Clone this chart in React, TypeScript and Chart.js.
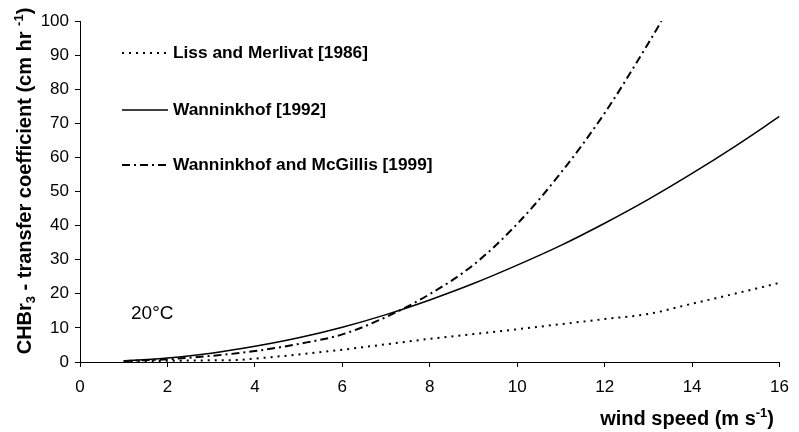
import { useEffect, useRef } from "react";
import { Chart, registerables } from "chart.js";

Chart.register(...registerables);

const lmSpeed = [1, 2, 3, 3.6, 4, 5, 6, 7, 8, 9, 10, 11, 12, 13, 14, 15, 16];
const lmValues = [0.2, 0.35, 0.5, 0.6, 1.0, 2.2, 3.6, 5.2, 6.8, 8.2, 9.6, 11.1, 12.6, 14.1, 17.1, 20.1, 23.2];

const w92Speed = [1, 2, 3, 4, 5, 6, 7, 8, 9, 10, 11, 12, 13, 14, 15, 16];
const w92Values = [0.3, 1.2, 2.6, 4.6, 7.1, 10.2, 13.9, 18.2, 23.0, 28.4, 34.2, 40.7, 47.7, 55.3, 63.4, 72.0];

const wmSpeed = [1, 2, 3, 4, 5, 6, 7, 8, 9, 10, 11, 12, 13, 13.3];
const wmValues = [0.3, 0.8, 1.8, 3.2, 5.3, 8.1, 13.2, 19.9, 28.5, 40.5, 55.5, 73.0, 93.5, 100.0];

const seriesNames = ["Liss and Merlivat [1986]", "Wanninkhof [1992]", "Wanninkhof and McGillis [1999]"];
const tempLabel = "20°C";

const FONT = "'Liberation Sans', Arial, Helvetica, sans-serif";

const dashDotted = [2, 5];
const dashSolid: number[] = [];
const dashDashDot = [8, 4, 2, 4];

type Piece = { t: string; size: number; dy: number };

function drawPieces(ctx: CanvasRenderingContext2D, pieces: Piece[], x: number, y: number, align: "left" | "center" | "right") {
  let total = 0;
  for (const p of pieces) {
    ctx.font = `bold ${p.size}px ${FONT}`;
    total += ctx.measureText(p.t).width;
  }
  let cx = align === "left" ? x : align === "center" ? x - total / 2 : x - total;
  ctx.textAlign = "left";
  ctx.textBaseline = "alphabetic";
  for (const p of pieces) {
    ctx.font = `bold ${p.size}px ${FONT}`;
    ctx.fillText(p.t, cx, y + p.dy);
    cx += ctx.measureText(p.t).width;
  }
}

const annotations = {
  id: "annotations",
  afterDraw(chart: Chart) {
    const ctx = chart.ctx;
    ctx.save();
    ctx.fillStyle = "#000";
    ctx.strokeStyle = "#000";

    // Y axis title (rotated)
    ctx.save();
    ctx.translate(31, 181);
    ctx.rotate(-Math.PI / 2);
    drawPieces(
      ctx,
      [
        { t: "CHBr", size: 20, dy: 0 },
        { t: "3", size: 13, dy: 4 },
        { t: " - transfer coefficient (cm hr ", size: 20, dy: 0 },
        { t: "-1", size: 13, dy: -8 },
        { t: ")", size: 20, dy: 0 },
      ],
      0,
      0,
      "center"
    );
    ctx.restore();

    // X axis title
    drawPieces(
      ctx,
      [
        { t: "wind speed (m s", size: 20, dy: 0 },
        { t: "-1", size: 13, dy: -8 },
        { t: ")", size: 20, dy: 0 },
      ],
      774,
      425,
      "right"
    );

    // Temperature label
    ctx.font = `19px ${FONT}`;
    ctx.textAlign = "left";
    ctx.textBaseline = "alphabetic";
    ctx.fillText(tempLabel, 131, 319);

    // Legend
    const dashes = [dashDotted, dashSolid, dashDashDot];
    const widths = [2, 1.5, 2];
    const ys = [53, 110, 165];
    for (let i = 0; i < seriesNames.length; i++) {
      ctx.save();
      ctx.beginPath();
      ctx.setLineDash(dashes[i]);
      ctx.lineWidth = widths[i];
      ctx.moveTo(122, ys[i]);
      ctx.lineTo(168, ys[i]);
      ctx.stroke();
      ctx.restore();
      ctx.font = `bold 17.3px ${FONT}`;
      ctx.textAlign = "left";
      ctx.textBaseline = "middle";
      ctx.fillText(seriesNames[i], 173, ys[i]);
    }
    ctx.restore();
  },
};

function toPoints(xs: number[], ys: number[]) {
  return xs.map((x, i) => ({ x, y: ys[i] }));
}

export default function App() {
  const ref = useRef<HTMLCanvasElement | null>(null);

  useEffect(() => {
    if (!ref.current) return;
    const tickFont = { family: FONT, size: 17 };
    const chart = new Chart(ref.current, {
      type: "line",
      data: {
        datasets: [
          {
            label: seriesNames[0],
            data: toPoints(lmSpeed, lmValues),
            borderColor: "#000",
            borderWidth: 2,
            borderDash: dashDotted,
            pointRadius: 0,
            cubicInterpolationMode: "monotone",
            fill: false,
          },
          {
            label: seriesNames[1],
            data: toPoints(w92Speed, w92Values),
            borderColor: "#000",
            borderWidth: 1.5,
            pointRadius: 0,
            cubicInterpolationMode: "monotone",
            fill: false,
          },
          {
            label: seriesNames[2],
            data: toPoints(wmSpeed, wmValues),
            borderColor: "#000",
            borderWidth: 2,
            borderDash: dashDashDot,
            pointRadius: 0,
            cubicInterpolationMode: "monotone",
            fill: false,
          },
        ],
      },
      options: {
        animation: false,
        responsive: true,
        maintainAspectRatio: false,
        layout: { padding: { top: 21, right: 11, left: 0, bottom: 0 } },
        plugins: { legend: { display: false }, tooltip: { enabled: false } },
        scales: {
          x: {
            type: "linear",
            min: 0,
            max: 16,
            ticks: { stepSize: 2, color: "#000", font: tickFont, padding: 10, maxRotation: 0 },
            grid: { drawOnChartArea: false, drawTicks: true, tickLength: 5, color: "#000", lineWidth: 1 },
            border: { display: true, color: "#000", width: 1 },
            afterFit: (s: any) => {
              s.height = 70;
            },
          },
          y: {
            type: "linear",
            min: 0,
            max: 100,
            ticks: { stepSize: 10, color: "#000", font: tickFont, padding: 6 },
            grid: { drawOnChartArea: false, drawTicks: true, tickLength: 5, color: "#000", lineWidth: 1 },
            border: { display: true, color: "#000", width: 1 },
            afterFit: (s: any) => {
              s.width = 80;
            },
          },
        },
      },
      plugins: [annotations],
    } as any);
    return () => chart.destroy();
  }, []);

  return (
    <div style={{ position: "absolute", left: 0, top: 0, width: 799, height: 432, background: "#fff" }}>
      <canvas ref={ref} />
    </div>
  );
}
